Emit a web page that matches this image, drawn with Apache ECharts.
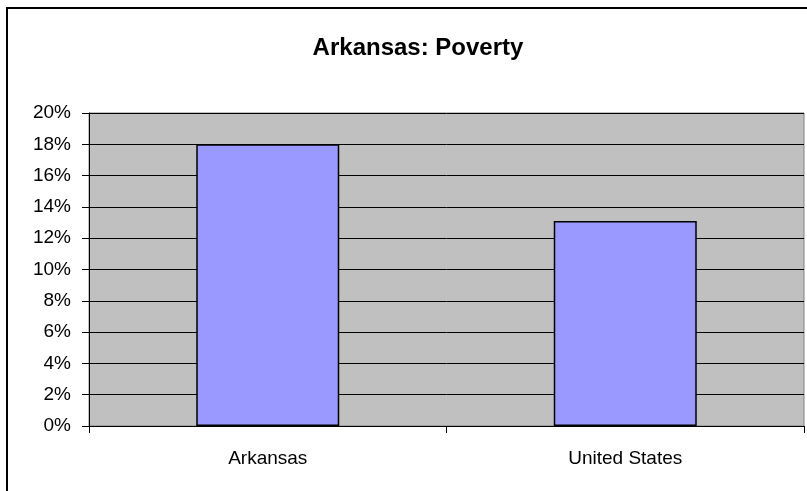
<!DOCTYPE html>
<html>
<head>
<meta charset="utf-8">
<script src="https://cdn.jsdelivr.net/npm/echarts@6/dist/echarts.min.js"></script>
<style>
  html, body { margin: 0; padding: 0; background: #fff; }
  #chart { width: 807px; height: 491px; }
</style>
</head>
<body>
<div id="chart"></div>
<script>
// Poverty rate, Arkansas vs. the nation
const titleText = 'Arkansas: Poverty';
const categories = ['Arkansas', 'United States'];
const povertyRates = [0.18, 0.131];
const yMin = 0;
const yMax = 0.20;
const yStep = 0.02;

const chart = echarts.init(document.getElementById('chart'), null, { renderer: 'canvas' });
const font = '"Liberation Sans", Arial, sans-serif';

chart.setOption({
  animation: false,
  backgroundColor: '#ffffff',
  title: {
    text: titleText,
    left: 413,
    textAlign: 'center',
    top: 31,
    textStyle: { fontFamily: font, fontSize: 24, fontWeight: 'bold', color: '#000' }
  },
  graphic: [{
    type: 'rect',
    shape: { x: 7, y: 8, width: 820, height: 500 },
    style: { fill: 'none', stroke: '#000', lineWidth: 2 },
    silent: true,
    z: 100
  }],
  grid: {
    left: 89, top: 113, right: 3, bottom: 65,
    show: true,
    backgroundColor: '#C0C0C0',
    borderColor: '#808080',
    borderWidth: 1
  },
  xAxis: {
    type: 'category',
    data: categories,
    axisLine: { show: true, lineStyle: { color: '#000', width: 1 } },
    axisTick: { show: true, length: 7, lineStyle: { color: '#000' } },
    axisLabel: { fontFamily: font, fontSize: 19, color: '#000', margin: 23 },
    splitLine: { show: false }
  },
  yAxis: {
    type: 'value',
    min: yMin,
    max: yMax,
    interval: yStep,
    axisLine: { show: true, lineStyle: { color: '#000', width: 1 } },
    axisTick: { show: true, length: 7, lineStyle: { color: '#000' } },
    axisLabel: {
      fontFamily: font, fontSize: 19, color: '#000', margin: 18,
      formatter: v => Math.round(v * 100) + '%'
    },
    splitLine: { show: true, lineStyle: { color: '#000', width: 1 } }
  },
  series: [{
    type: 'bar',
    data: povertyRates,
    barWidth: '40%',
    itemStyle: { color: '#9999FF', borderColor: '#000', borderWidth: 1.5 }
  }]
});
</script>
</body>
</html>
